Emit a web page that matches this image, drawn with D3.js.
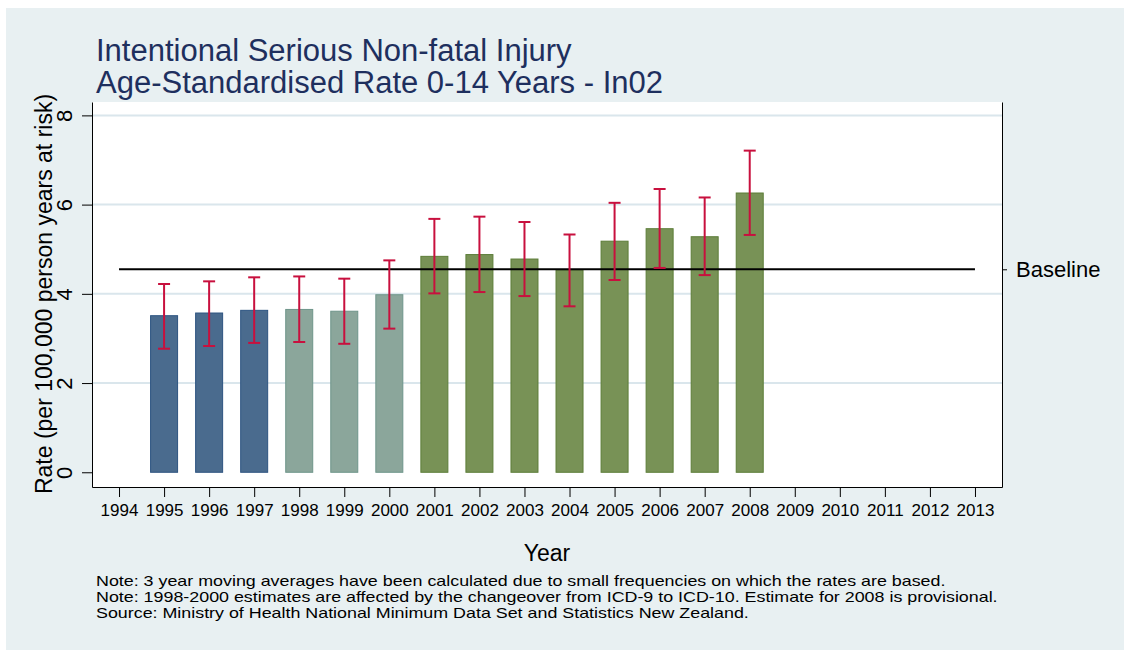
<!DOCTYPE html>
<html>
<head>
<meta charset="utf-8">
<script src="https://cdn.jsdelivr.net/npm/d3@7"></script>
<style>
	body { margin: 0; background: #fff; }
	text { font-family: "Liberation Sans", Arial, sans-serif; }
</style>
</head>
<body>
<div id="chart-area"></div>
<script>
// Data
const years = d3.range(1994, 2014)
const barYears = [1995, 1996, 1997, 1998, 1999, 2000, 2001, 2002, 2003, 2004, 2005, 2006, 2007, 2008]
const rates = [3.51, 3.57, 3.63, 3.65, 3.61, 3.98, 4.84, 4.88, 4.78, 4.53, 5.18, 5.46, 5.28, 6.26]
const lower = [2.77, 2.83, 2.90, 2.92, 2.88, 3.22, 4.01, 4.04, 3.95, 3.72, 4.31, 4.58, 4.42, 5.32]
const upper = [4.22, 4.28, 4.37, 4.39, 4.34, 4.75, 5.68, 5.73, 5.61, 5.33, 6.04, 6.35, 6.16, 7.21]
const groups = ["icd9", "icd9", "icd9", "change", "change", "change", "icd10", "icd10", "icd10", "icd10", "icd10", "icd10", "icd10", "icd10"]
const baseline = 4.55
const yTicks = [0, 2, 4, 6, 8]
const titleLines = ["Intentional Serious Non-fatal Injury", "Age-Standardised Rate 0-14 Years - In02"]
const notes = [
	"Note: 3 year moving averages have been calculated due to small frequencies on which the rates are based.",
	"Note: 1998-2000 estimates are affected by the changeover from ICD-9 to ICD-10. Estimate for 2008 is provisional.",
	"Source: Ministry of Health National Minimum Data Set and Statistics New Zealand."
]

const fills = { icd9: "#4a6b8e", change: "#8ba69b", icd10: "#789256" }
const strokes = { icd9: "#2d5481", change: "#6e958a", icd10: "#5c7d38" }

// widen text a bit, the original font runs wider than Liberation Sans
function stretch(sel, k) {
	sel.each(function () {
		const len = this.getComputedTextLength()
		d3.select(this).attr("textLength", len * k).attr("lengthAdjust", "spacingAndGlyphs")
	})
}

// Canvas
const W = 1124, H = 650
const margin = { left: 92, right: 122, top: 102, bottom: 163 },
	width = W - margin.left - margin.right,
	height = H - margin.top - margin.bottom

const svg = d3.select("#chart-area")
	.append("svg")
	.attr("width", W)
	.attr("height", H)

svg.append("rect")
	.attr("x", 6).attr("y", 8)
	.attr("width", W - 6).attr("height", H - 8)
	.attr("fill", "#e8f0f2")

const g = svg.append("g")
	.attr("transform", `translate(${margin.left}, ${margin.top})`)

g.append("rect")
	.attr("width", width).attr("height", height)
	.attr("fill", "#fff")

// Scales
const x = d3.scaleLinear().domain([1993.4, 2013.6]).range([0, width])
const y = d3.scaleLinear().domain([-0.33, 8.3]).range([height, 0])

// Gridlines
g.selectAll(".grid")
	.data(yTicks.filter(d => d > 0))
	.enter().append("line")
	.attr("x1", 0).attr("x2", width)
	.attr("y1", d => y(d)).attr("y2", d => y(d))
	.attr("stroke", "#dae6ec")
	.attr("stroke-width", 2)

// Bars
const barW = 27
g.selectAll(".bar")
	.data(barYears)
	.enter().append("rect")
	.attr("x", d => x(d) - barW / 2)
	.attr("y", (d, i) => y(rates[i]))
	.attr("width", barW)
	.attr("height", (d, i) => y(0) - y(rates[i]))
	.attr("fill", (d, i) => fills[groups[i]])
	.attr("stroke", (d, i) => strokes[groups[i]])
	.attr("stroke-width", 1)

// Baseline
g.append("line")
	.attr("x1", x(1994)).attr("x2", x(2013))
	.attr("y1", y(baseline)).attr("y2", y(baseline))
	.attr("stroke", "#000")
	.attr("stroke-width", 2)

// Error bars
const err = g.selectAll(".err")
	.data(barYears)
	.enter().append("g")
	.attr("stroke", "#c8103e")
	.attr("stroke-width", 2)
err.append("line")
	.attr("x1", d => x(d)).attr("x2", d => x(d))
	.attr("y1", (d, i) => y(upper[i])).attr("y2", (d, i) => y(lower[i]))
err.append("line")
	.attr("x1", d => x(d) - 6).attr("x2", d => x(d) + 6)
	.attr("y1", (d, i) => y(upper[i])).attr("y2", (d, i) => y(upper[i]))
err.append("line")
	.attr("x1", d => x(d) - 6).attr("x2", d => x(d) + 6)
	.attr("y1", (d, i) => y(lower[i])).attr("y2", (d, i) => y(lower[i]))

// Axes
const xAxis = g.append("g")
	.attr("transform", `translate(0, ${height})`)
	.call(d3.axisBottom(x).tickValues(years).tickFormat(d3.format("d")).tickSize(10).tickSizeOuter(0).tickPadding(7))
xAxis.selectAll("text").attr("font-size", "17px").attr("fill", "#000")

const yAxis = g.append("g")
	.call(d3.axisLeft(y).tickValues(yTicks).tickSize(10).tickSizeOuter(0))
yAxis.selectAll("text")
	.attr("font-size", "22px").attr("fill", "#000")
	.attr("transform", "rotate(-90)")
	.attr("x", 0).attr("y", -20).attr("dy", 0)
	.attr("text-anchor", "middle")

const rAxis = g.append("g")
	.attr("transform", `translate(${width}, 0)`)
	.call(d3.axisRight(y).tickValues([baseline]).tickFormat(() => "Baseline").tickSize(5).tickSizeOuter(0).tickPadding(9))
rAxis.selectAll("text").attr("font-size", "22px").attr("fill", "#000")

svg.selectAll(".domain").attr("stroke", "#000")
svg.selectAll(".tick line").attr("stroke", "#000")

// Labels
svg.append("text")
	.attr("x", 547).attr("y", 561)
	.attr("text-anchor", "middle")
	.attr("font-size", "23px")
	.text("Year")

svg.append("text")
	.attr("transform", "rotate(-90)")
	.attr("x", -294).attr("y", 52)
	.attr("text-anchor", "middle")
	.attr("font-size", "23px")
	.text("Rate (per 100,000 person years at risk)")

svg.selectAll(".title")
	.data(titleLines)
	.enter().append("text")
	.attr("x", 96)
	.attr("y", (d, i) => 61 + i * 32)
	.attr("font-size", "31px")
	.attr("fill", "#1e2f5e")
	.text(d => d)

const noteText = svg.selectAll(".note")
	.data(notes)
	.enter().append("text")
	.attr("x", 96)
	.attr("y", (d, i) => 586 + i * 16)
	.attr("font-size", "15px")
	.text(d => d)
stretch(noteText, 1.19)
</script>
</body>
</html>
